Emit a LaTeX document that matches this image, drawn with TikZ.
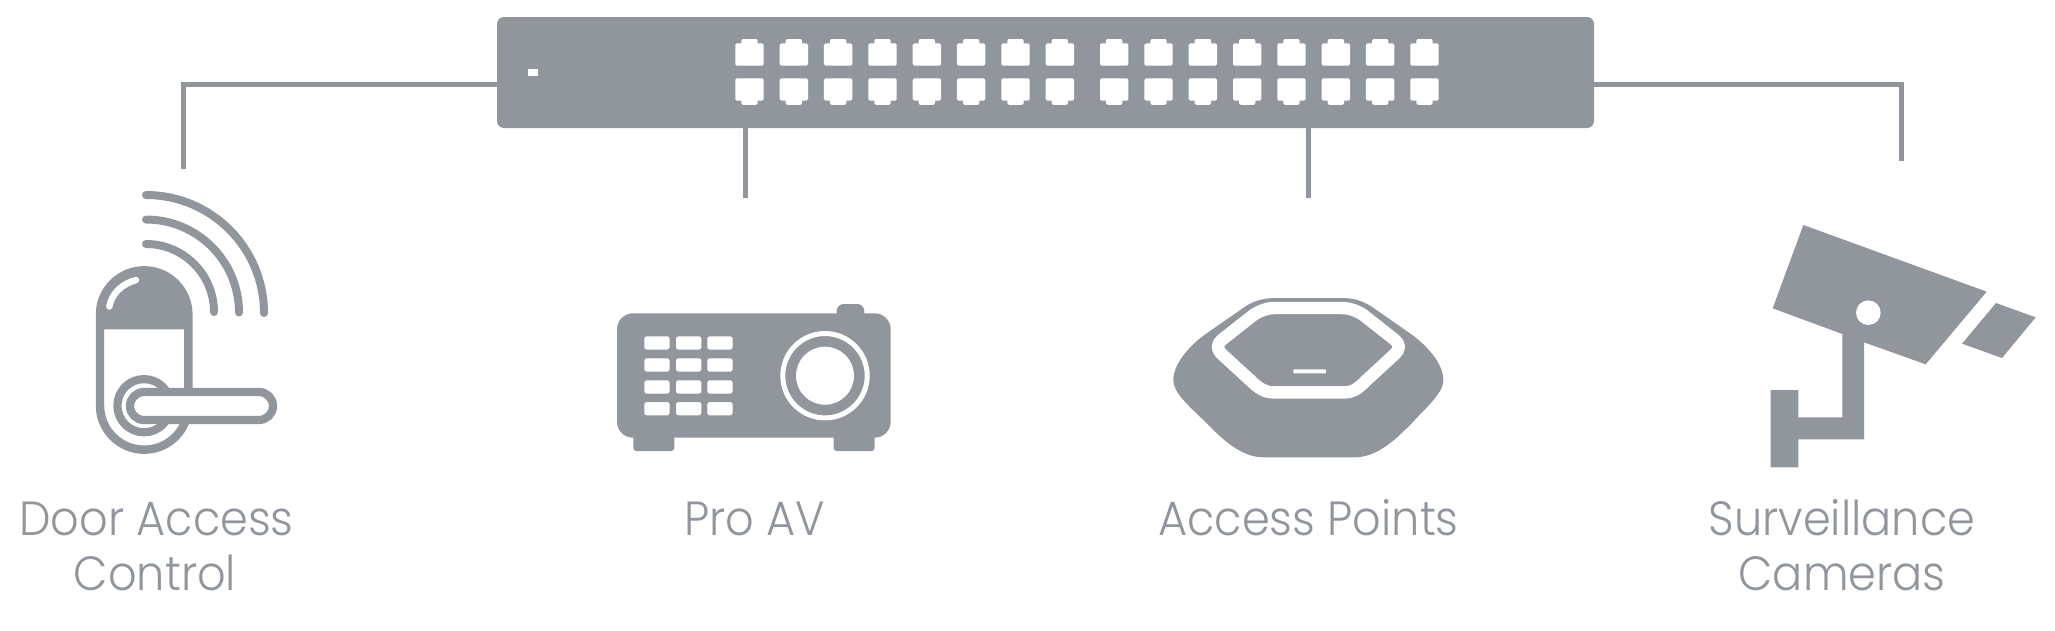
\documentclass[tikz,border=0pt]{standalone}
\usepackage{fontspec}
\setmainfont{Poppins}[UprightFont=* Light,FakeStretch=0.93]
\definecolor{ug}{HTML}{91969C}
\tikzset{
  wire/.style={draw=ug,line width=5pt},
  solid fill/.style={fill=ug,draw=none},
  hole/.style={fill=white,draw=none},
  wave/.style={draw=ug,line width=8pt,line cap=round},
  lab/.style={anchor=base,text=ug,font=\fontsize{48}{48}\selectfont,inner sep=0pt},
  zoomed/.style={x=0.33333pt,y=-0.33333pt}
}
\newcommand{\porttop}[1]{%
  \fill[white,rounded corners=1.6pt] (#1,43.3) rectangle ({#1+28.4},65.7);
  \fill[white,rounded corners=2pt] ({#1+6},39) rectangle ({#1+22.4},47);}
\newcommand{\portbot}[1]{%
  \fill[white,rounded corners=1.6pt] (#1,78.3) rectangle ({#1+28.4},100.7);
  \fill[white,rounded corners=2pt] ({#1+6},97) rectangle ({#1+22.4},104.8);}
\begin{document}
\begin{tikzpicture}[x=1pt,y=-1pt]
\useasboundingbox (0,0) rectangle (2055,630);

% switch
\node[solid fill,rounded corners=7pt,minimum width=1097pt,minimum height=111pt,inner sep=0pt,outer sep=0pt] (sw) at (1045.5,72.5) {};
\coordinate (swL) at (497,84);
\coordinate (swR) at (1594,84);
\coordinate (doorEnd) at (183.5,169);
\coordinate (proEnd) at (745,198);
\coordinate (apEnd) at (1308,198);
\coordinate (camEnd) at (1901,161);
\draw[wire] (swL) -| (doorEnd);
\draw[wire] (swR) -| (camEnd);
\draw[wire] (sw.south -| proEnd) -- (proEnd);
\draw[wire] (sw.south -| apEnd) -- (apEnd);
\fill[white] (527.7,69.3) rectangle (538,75.7);
\foreach \i in {0,...,7}{
  \pgfmathsetmacro{\xa}{735.3+44.33*\i}
  \pgfmathsetmacro{\xb}{1100+44.33*\i}
  \porttop{\xa}\portbot{\xa}\porttop{\xb}\portbot{\xb}
}

% door lock
\draw[wave] (146,195) arc[start angle=90,end angle=0,radius=118pt];
\draw[wave] (146,219.5) arc[start angle=90,end angle=0,radius=93pt];
\draw[wave] (146,244) arc[start angle=90,end angle=0,radius=68pt];
\draw[ug,fill=white,line width=8.4pt] (100,314.5) arc[start angle=180,end angle=0,radius=44.2pt] -- (188.4,405.5) arc[start angle=0,end angle=-180,radius=44.2pt] -- cycle;
\fill[ug] (100,314.5) arc[start angle=180,end angle=0,radius=44.2pt] -- (188.4,329.3) -- (100,329.3) -- cycle;
\draw[white,line width=6.5pt,line cap=round] (109.3,306.5) .. controls (112,293) and (122,284) .. (136,280);
\draw[ug,fill=white,line width=8.2pt] (144,405.7) circle[radius=26.6pt];
\draw[ug,fill=white,line width=8.2pt] (144,392) -- (259,392) arc[start angle=90,end angle=-90,radius=14pt] -- (144,420) arc[start angle=270,end angle=90,radius=14pt] -- cycle;

% projector
\fill[ug,rounded corners=7pt] (836.7,320) -- (836.7,304) -- (864.3,304) -- (864.3,320) -- cycle;
\fill[ug,rounded corners=3pt] (633.3,425) rectangle (674.3,451);
\fill[ug,rounded corners=3pt] (833.7,425) rectangle (874.7,451);
\fill[ug,rounded corners=16pt] (617,313.3) rectangle (890.7,437.7);
\foreach \px in {644.3,676,707.3}
  \foreach \py in {336.3,358.3,380.3,402}
    \fill[white,rounded corners=2.5pt] (\px,\py) rectangle ({\px+25.3},{\py+13.3});
\draw[white,line width=5pt] (825,375.7) circle[radius=42.2pt];
\fill[white] (825,375.7) circle[radius=29pt];

% access point
\begin{scope}[shift={(1150,280)},zoomed]
\fill[ug] (380,54) .. controls (345,54) and (315,60) .. (285,80)
  -- (170,160) .. controls (130,188) and (70,245) .. (70,300)
  .. controls (70,340) and (120,380) .. (170,430)
  .. controls (210,470) and (270,532) .. (340,532)
  -- (615,532) .. controls (685,532) and (745,470) .. (785,430)
  .. controls (830,380) and (880,340) .. (880,300)
  .. controls (880,245) and (820,188) .. (780,160)
  -- (665,80) .. controls (635,60) and (605,54) .. (575,54) -- cycle;
\draw[white,line width=12.4pt,line join=round]
  (375,84) -- (575,84) .. controls (600,84) and (620,92) .. (640,105)
  -- (735,180) .. controls (750,192) and (750,208) .. (735,222)
  -- (650,300) .. controls (625,325) and (610,337) .. (585,337)
  -- (370,337) .. controls (345,337) and (325,325) .. (300,300)
  -- (215,222) .. controls (200,208) and (200,192) .. (215,180)
  -- (310,105) .. controls (330,92) and (350,84) .. (375,84) -- cycle;
\fill[white,rounded corners=0.8pt] (430,268) rectangle (528,280);
\end{scope}

% camera
\begin{scope}[shift={(1700,200)},zoomed]
\fill[ug] (310,75) -- (860,275) -- (677,493) -- (492,427) -- (492,718) -- (295,718) -- (295,802) -- (212,802) -- (212,570) -- (295,570) -- (295,652) -- (427,652) -- (427,402) -- (218,325) -- cycle;
\fill[white] (505,338) circle[radius=12.3pt];
\fill[ug] (888,309) -- (1007,352) -- (906,474) -- (786,431) -- cycle;
\end{scope}

% labels
\node[lab] (doorA) at (156.5,535) {Door Access};
\node[lab] (doorB) at (155,590) {Control};
\node[lab] (pro) at (754.5,535) {Pro AV};
\node[lab] (ap) at (1308.5,535) {Access Points};
\node[lab] (camA) at (1842,535) {Surveillance};
\node[lab] (camB) at (1842,590) {Cameras};
\end{tikzpicture}
\end{document}
